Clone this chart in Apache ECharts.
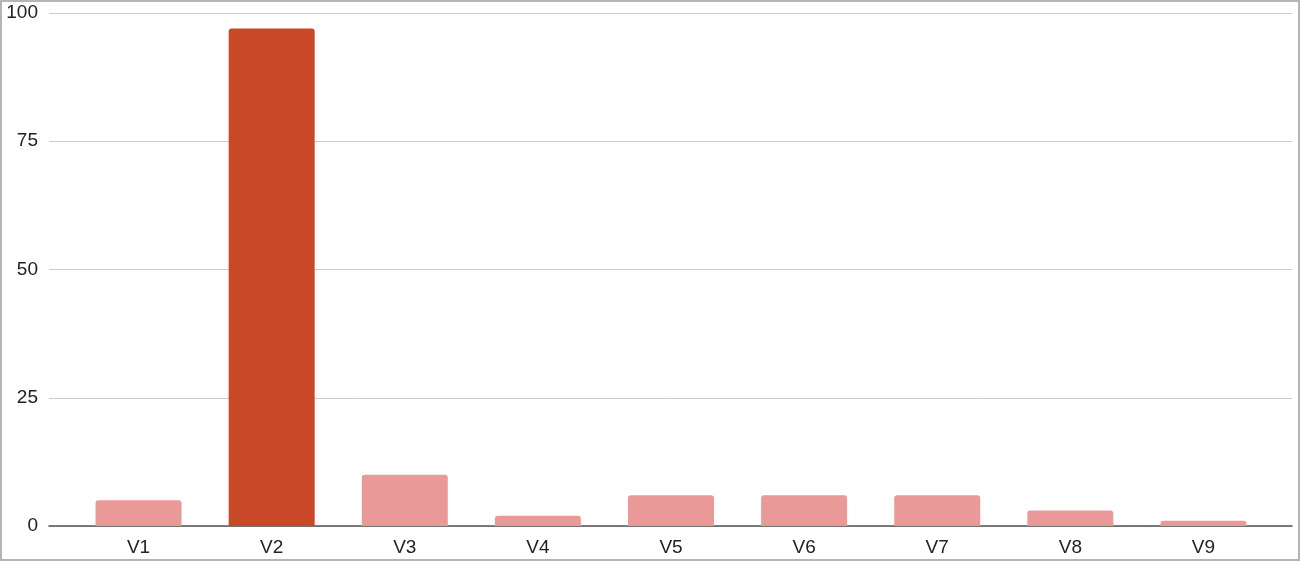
<!DOCTYPE html>
<html>
<head>
<meta charset="utf-8">
<script src="https://cdn.jsdelivr.net/npm/echarts@6/dist/echarts.min.js"></script>
<style>
  html, body { margin: 0; padding: 0; background: #fff; }
  #chart { width: 1300px; height: 561px; }
  #frame {
    position: absolute; left: 0; top: 0; width: 1300px; height: 561px;
    box-sizing: border-box; border: 2px solid #b4b4b4; pointer-events: none;
  }
</style>
</head>
<body>
<div id="chart"></div>
<div id="frame"></div>
<script>
// data
const categories = ['V1', 'V2', 'V3', 'V4', 'V5', 'V6', 'V7', 'V8', 'V9'];
const values = [5, 97, 10, 2, 6, 6, 6, 3, 1];
const highlightIndex = 1;
const yTicks = [0, 25, 50, 75, 100];

const chart = echarts.init(document.getElementById('chart'));

const labelFont = { fontFamily: 'Liberation Sans, Arial, sans-serif', fontSize: 19, color: '#222' };

chart.setOption({
  animation: false,
  grid: [
    // full width grid: gridlines + axis line + y labels
    { left: 49, right: 8, top: 13, bottom: 35 },
    // inner grid holding the bars
    { left: 72, right: 30, top: 13, bottom: 35 }
  ],
  xAxis: [
    {
      gridIndex: 0, type: 'value', min: 0, max: 1,
      axisLine: { show: true, lineStyle: { color: '#555', width: 1.5 } },
      axisTick: { show: false }, axisLabel: { show: false }, splitLine: { show: false }
    },
    {
      gridIndex: 1, type: 'category', data: categories,
      axisLine: { show: false }, axisTick: { show: false },
      axisLabel: Object.assign({ margin: 12 }, labelFont)
    }
  ],
  yAxis: [
    {
      gridIndex: 0, type: 'value', min: yTicks[0], max: yTicks[yTicks.length - 1], interval: 25,
      axisLine: { show: false }, axisTick: { show: false },
      axisLabel: Object.assign({ margin: 11 }, labelFont),
      splitLine: { lineStyle: { color: '#cccccc', width: 1 } }
    },
    {
      gridIndex: 1, type: 'value', min: yTicks[0], max: yTicks[yTicks.length - 1],
      show: false, splitLine: { show: false }
    }
  ],
  series: [{
    type: 'bar',
    xAxisIndex: 1, yAxisIndex: 1,
    barWidth: 86,
    data: values.map((v, i) => ({
      value: v,
      itemStyle: { color: i === highlightIndex ? '#c94827' : '#ea9999' }
    })),
    itemStyle: { borderRadius: [3, 3, 0, 0] }
  }]
});
</script>
</body>
</html>
